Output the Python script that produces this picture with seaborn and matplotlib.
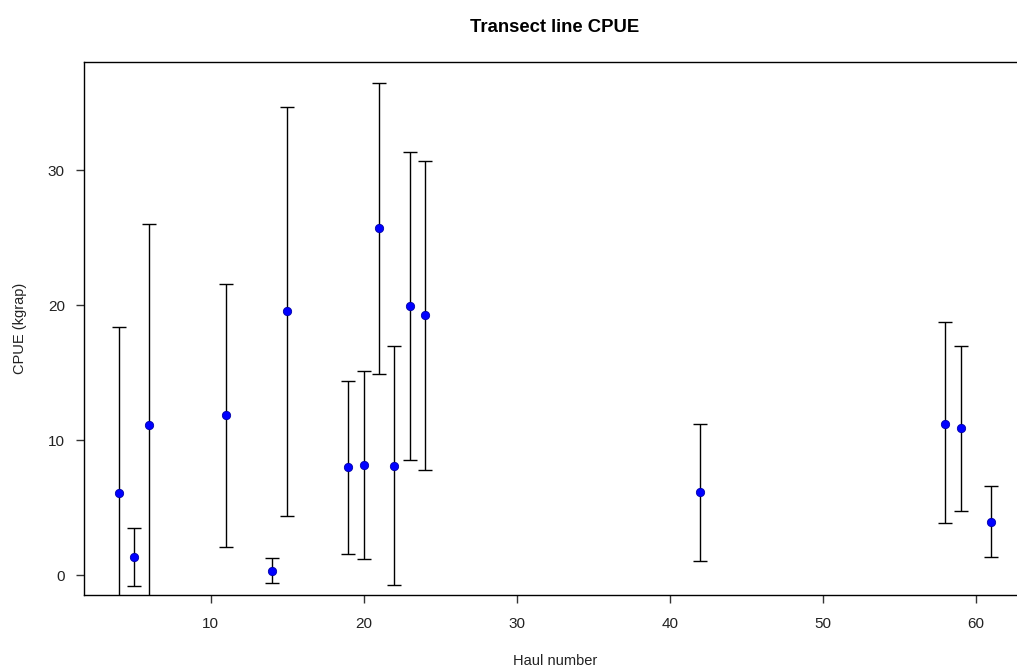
import matplotlib
matplotlib.use("Agg")
import matplotlib.pyplot as plt
import seaborn as sns
import pandas as pd

haul = [4, 5, 6, 11, 14, 15, 19, 20, 21, 22, 23, 24, 42, 58, 59, 61]
cpue = [6.07, 1.33, 11.14, 11.85, 0.33, 19.53, 7.98, 8.13, 25.69, 8.06, 19.96, 19.25, 6.17, 11.23, 10.89, 3.95]
lower = [-6.26, -0.82, -3.70, 2.12, -0.56, 4.41, 1.61, 1.20, 14.89, -0.74, 8.51, 7.80, 1.06, 3.88, 4.79, 1.36]
upper = [18.40, 3.47, 25.98, 21.54, 1.27, 34.67, 14.38, 15.09, 36.43, 16.98, 31.35, 30.64, 11.19, 18.72, 17.01, 6.59]

df = pd.DataFrame({"haul": haul, "cpue": cpue, "lower": lower, "upper": upper})

sns.set_theme(style="white")
plt.rcParams["font.family"] = ["Liberation Sans", "DejaVu Sans"]

W, H = 1017, 671
fig = plt.figure(figsize=(W / 100, H / 100), dpi=100)
# axes box: left 84px, top 62px, bottom 595px; right edge cropped beyond the image
left_px, right_px, top_px, bot_px = 84, 1026, 62, 595
ax = fig.add_axes([left_px / W, 1 - bot_px / H, (right_px - left_px) / W, (bot_px - top_px) / H])

yerr = [df["cpue"] - df["lower"], df["upper"] - df["cpue"]]
ax.errorbar(df["haul"], df["cpue"], yerr=yerr, fmt="none", ecolor="black",
            elinewidth=1.0, capsize=5, capthick=1.0, zorder=2)
sns.scatterplot(data=df, x="haul", y="cpue", ax=ax, color="#0000FF", s=36,
                edgecolor="#0000AA", linewidth=0.6, zorder=3)

ax.set_xlim(1.72, 63.28)
ax.set_ylim(-1.46, 38.0)
ax.set_xticks([10, 20, 30, 40, 50, 60])
ax.set_yticks([0, 10, 20, 30])
for s in ax.spines.values():
    s.set_color("black")
    s.set_linewidth(1.0)
    s.set_visible(True)
ax.tick_params(axis="both", which="major", direction="out", length=5.8, width=1.0,
               color="#333333", labelsize=11, labelcolor="#222222",
               bottom=True, left=True)
ax.tick_params(axis="x", pad=10)
ax.tick_params(axis="y", pad=8)
ax.set_xlabel("")
ax.set_ylabel("")

fig.text(555 / W, 1 - 27 / H, "Transect line CPUE", ha="center", va="center",
         fontsize=13.3, fontweight="bold", color="black")
fig.text(555 / W, 1 - 661 / H, "Haul number", ha="center", va="center",
         fontsize=10.5, color="#222222")
fig.text(20 / W, 1 - 328 / H, "CPUE (kgrap)", ha="center", va="center",
         rotation=90, fontsize=10.5, color="#222222")

fig.savefig("out.png", dpi=100)
